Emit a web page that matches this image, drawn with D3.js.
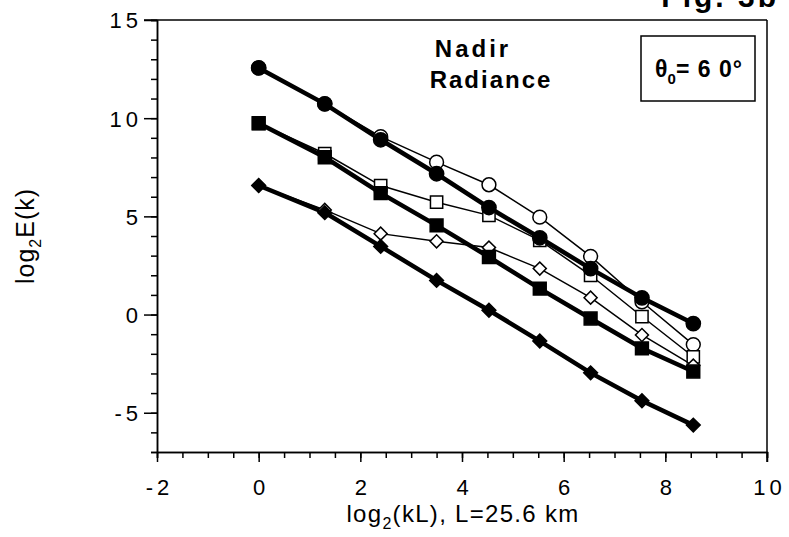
<!DOCTYPE html>
<html>
<head>
<meta charset="utf-8">
<script src="https://cdn.jsdelivr.net/npm/d3@7"></script>
<style>
  body { margin: 0; background: #fff; }
  svg, .axis text { font-family: "Liberation Sans", Arial, Helvetica, sans-serif; }
  .axis text { font-size: 22px; letter-spacing: 4px; fill: #000; }
  .axis path, .axis line { stroke: #000; stroke-width: 1.5px; }
</style>
</head>
<body>
<svg width="789" height="537"></svg>
<script>
// wavenumber positions, log2(kL)
var kL = [0, 1.3, 2.4, 3.5, 4.53, 5.53, 6.53, 7.54, 8.55];

// log2 E(k) for each curve
var circleFilled  = [12.56, 10.73, 8.9, 7.17, 5.45, 3.91, 2.34, 0.85, -0.46];
var circleOpen    = [12.56, 10.73, 9.06, 7.76, 6.61, 4.96, 2.96, 0.65, -1.53];
var squareFilled  = [9.74, 8.01, 6.18, 4.54, 2.93, 1.32, -0.2, -1.72, -2.9];
var squareOpen    = [9.74, 8.2, 6.57, 5.72, 5.05, 3.78, 2.0, -0.1, -2.15];
var diamondFilled = [6.57, 5.19, 3.47, 1.74, 0.22, -1.35, -2.97, -4.39, -5.63];
var diamondOpen   = [6.57, 5.33, 4.12, 3.73, 3.41, 2.34, 0.86, -1.04, -2.6];

var xMajor = [-2, 0, 2, 4, 6, 8, 10];
var yMajor = [-5, 0, 5, 10, 15];

var svg = d3.select("svg");
var pl = 157, pr = 767, pt = 20, pb = 452;

var x = d3.scaleLinear().domain([-2, 10]).range([pl, pr]);
var y = d3.scaleLinear().domain([-7, 15]).range([pb, pt]);

// frame
svg.append("line").attr("x1", pl - 13).attr("x2", pr).attr("y1", pt).attr("y2", pt)
    .attr("stroke", "#000").attr("stroke-width", 1.5);
svg.append("line").attr("x1", pr).attr("x2", pr).attr("y1", pt).attr("y2", pb + 10)
    .attr("stroke", "#000").attr("stroke-width", 1.5);

// minor ticks
svg.append("g").attr("class", "axis")
    .attr("transform", "translate(" + pl + ",0)")
    .call(d3.axisLeft(y).tickValues(d3.range(-7, 16)).tickSize(6).tickFormat(""));
svg.append("g").attr("class", "axis")
    .attr("transform", "translate(0," + pb + ")")
    .call(d3.axisBottom(x).tickValues(d3.range(-2, 10.01, 0.5)).tickSize(6).tickFormat(""));

// major ticks + labels
var fmt = function (d) { return String(d); };
svg.append("g").attr("class", "axis")
    .attr("transform", "translate(" + pl + ",0)")
    .call(d3.axisLeft(y).tickValues(yMajor).tickSize(13).tickPadding(2).tickSizeOuter(0).tickFormat(fmt))
    .selectAll("text").attr("dy", "0.36em");
svg.append("g").attr("class", "axis")
    .attr("transform", "translate(0," + pb + ")")
    .call(d3.axisBottom(x).tickValues(xMajor).tickSize(10).tickPadding(17).tickSizeOuter(0).tickFormat(fmt))
    .selectAll("text").attr("dx", "2px");

svg.selectAll(".axis .domain").attr("stroke-width", 2);

// axis titles
var xt = svg.append("text").attr("x", 463).attr("y", 522)
    .attr("text-anchor", "middle").style("font-size", "24px").style("letter-spacing", "1.3px");
xt.append("tspan").text("log");
xt.append("tspan").attr("dy", 7).style("font-size", "16px").text("2");
xt.append("tspan").attr("dy", -7).text("(kL), L=25.6 km");

var yt = svg.append("text").attr("transform", "translate(34,236) rotate(-90)")
    .attr("text-anchor", "middle").style("font-size", "25px").style("letter-spacing", "1px");
yt.append("tspan").text("log");
yt.append("tspan").attr("dy", 7).style("font-size", "16px").text("2");
yt.append("tspan").attr("dy", -7).text("E(k)");

// title
svg.append("text").attr("x", 473).attr("y", 57).attr("text-anchor", "middle")
    .style("font-size", "24px").style("font-weight", "bold").style("letter-spacing", "3px")
    .text("Nadir");
svg.append("text").attr("x", 491).attr("y", 88).attr("text-anchor", "middle")
    .style("font-size", "24px").style("font-weight", "bold").style("letter-spacing", "2px")
    .text("Radiance");

// figure label, cut off at the top edge
svg.append("text").attr("x", 779).attr("y", 7).attr("text-anchor", "end")
    .style("font-size", "30px").style("font-weight", "bold").style("letter-spacing", "3px")
    .text("Fig. 3b");

// angle box
svg.append("rect").attr("x", 641).attr("y", 36).attr("width", 114).attr("height", 65)
    .attr("fill", "none").attr("stroke", "#000").attr("stroke-width", 1.5);
var bt = svg.append("text").attr("x", 699).attr("y", 77).attr("text-anchor", "middle")
    .style("font-size", "23px").style("font-weight", "bold");
bt.append("tspan").text("θ");
bt.append("tspan").attr("dy", 7).style("font-size", "15px").text("0");
bt.append("tspan").attr("dy", -7).style("letter-spacing", "1px").text("= 6 0°");

// series
var series = [
  { v: circleOpen, shape: d3.symbolCircle, size: 150, rot: 0, filled: false },
  { v: squareOpen, shape: d3.symbolSquare, size: 150, rot: 0, filled: false },
  { v: diamondOpen, shape: d3.symbolSquare, size: 85, rot: 45, filled: false },
  { v: circleFilled, shape: d3.symbolCircle, size: 160, rot: 0, filled: true },
  { v: squareFilled, shape: d3.symbolSquare, size: 165, rot: 0, filled: true },
  { v: diamondFilled, shape: d3.symbolSquare, size: 95, rot: 45, filled: true }
];

var line = d3.line()
    .x(function (d, i) { return x(kL[i]); })
    .y(function (d) { return y(d); });

series.forEach(function (s) {
  svg.append("path").datum(s.v)
      .attr("d", line)
      .attr("fill", "none")
      .attr("stroke", "#000")
      .attr("stroke-width", s.filled ? 4.5 : 1.5);
});

series.forEach(function (s) {
  svg.append("g").selectAll("path").data(s.v).enter().append("path")
      .attr("transform", function (d, i) {
        return "translate(" + x(kL[i]) + "," + y(d) + ") rotate(" + s.rot + ")";
      })
      .attr("d", d3.symbol().type(s.shape).size(s.size))
      .attr("fill", s.filled ? "#000" : "#fff")
      .attr("stroke", "#000")
      .attr("stroke-width", 1.5);
});
</script>
</body>
</html>
